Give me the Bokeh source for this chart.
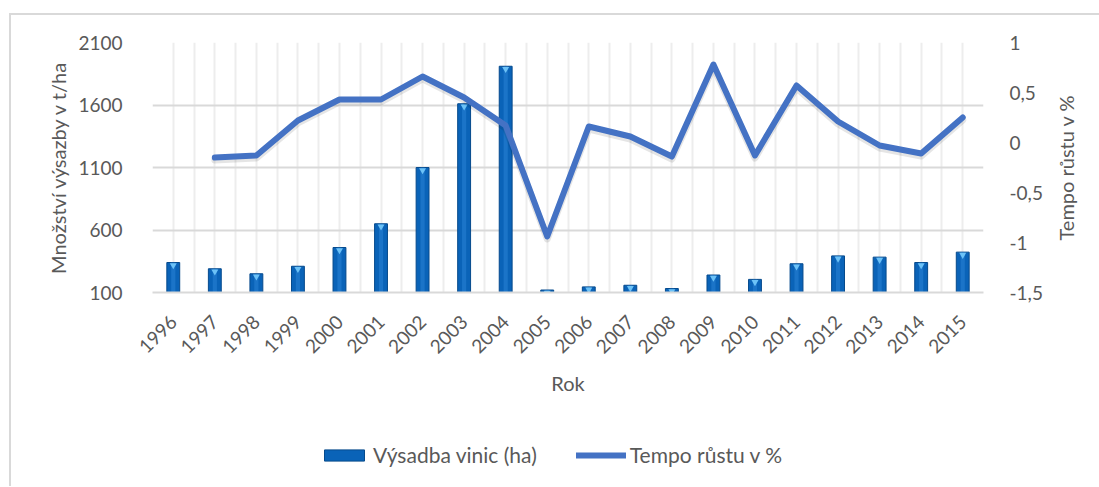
import numpy as np
from math import pi
from bokeh.plotting import figure
from bokeh.layouts import row, column
from bokeh.models import (Range1d, LinearAxis, FixedTicker, CustomJSTickFormatter,
                          Legend, LegendItem, ColumnDataSource)
from bokeh.transform import dodge
from bokeh.embed import file_html
from bokeh.resources import INLINE

# ---- data ----
years = [str(y) for y in range(1996, 2016)]
plantings = [340, 290, 250, 310, 460, 650, 1100, 1610, 1910, 120,
             145, 158, 132, 240, 205, 330, 393, 383, 340, 423]
growth = [None, -0.15, -0.13, 0.22, 0.43, 0.43, 0.66, 0.45, 0.17, -0.94,
          0.16, 0.06, -0.14, 0.78, -0.13, 0.57, 0.21, -0.03, -0.11, 0.25]
left_ticks = [100, 600, 1100, 1600, 2100]
right_ticks = [-1.5, -1, -0.5, 0, 0.5, 1]
left_title = "Množství výsazby v t/ha"
right_title = "Tempo růstu v %"
x_title = "Rok"
series_names = ["Výsadba vinic (ha)", "Tempo růstu v %"]

FONT = "Lato"
GRAY = "#595959"
FS = "19px"
TFS = "20px"
LFS = "21px"
BAR = dict(fill_color="#0A63B8", line_color="#064A8C", line_width=1)
LINE = dict(line_color="#4472C4", line_width=6, line_join="round", line_cap="round")

src = ColumnDataSource(dict(
    x=np.arange(len(years)) + 0.5,
    bars=plantings,
    growth=[np.nan if g is None else g for g in growth],
))

TOP, FH, BOT = 27, 250, 120

p = figure(frame_width=831, frame_height=FH,
           min_border_left=141, min_border_top=TOP, min_border_right=67, min_border_bottom=BOT,
           output_backend="svg", toolbar_location=None,
           x_range=Range1d(0, len(years)), y_range=Range1d(left_ticks[0], left_ticks[-1]))
p.outline_line_color = None
p.extra_y_ranges = {"r": Range1d(right_ticks[0], right_ticks[-1])}

# axes
p.yaxis.ticker = FixedTicker(ticks=left_ticks)
p.yaxis.axis_label = left_title
p.xaxis.ticker = FixedTicker(ticks=list(np.arange(len(years)) + 0.5))
p.xaxis.formatter = CustomJSTickFormatter(args=dict(years=years),
                                          code="return years[Math.floor(tick)];")
p.xaxis.major_label_orientation = pi / 4
p.xaxis.axis_label = x_title

ry = LinearAxis(y_range_name="r", ticker=FixedTicker(ticks=right_ticks),
                formatter=CustomJSTickFormatter(code="return tick.toString().replace('.', ',');"))
p.add_layout(ry, "right")

for ax in [p.yaxis[0], p.xaxis[0], ry]:
    ax.major_tick_line_color = None
    ax.minor_tick_line_color = None
    ax.major_label_text_font = FONT
    ax.major_label_text_font_size = FS
    ax.major_label_text_color = GRAY
    ax.axis_label_text_font = FONT
    ax.axis_label_text_font_size = TFS
    ax.axis_label_text_color = GRAY
    ax.axis_label_text_font_style = "normal"
p.yaxis[0].axis_line_color = None
ry.axis_line_color = None
p.xaxis[0].axis_line_color = "#D9D9D9"
p.xaxis[0].axis_line_width = 2
p.yaxis[0].major_label_standoff = 24
p.yaxis[0].axis_label_standoff = 5
ry.major_label_standoff = 20
p.xaxis[0].major_label_standoff = 20
p.xaxis[0].axis_label_standoff = 8

# grids
p.ygrid.ticker = FixedTicker(ticks=left_ticks)
p.ygrid.grid_line_color = "#D9D9D9"
p.ygrid.grid_line_width = 2
p.xgrid.ticker = FixedTicker(ticks=list(np.arange(0, len(years) + 0.5, 0.5)))
p.xgrid.grid_line_color = "#EDEDED"
p.xgrid.grid_line_width = 2

# bars
p.vbar(x="x", top="bars", bottom=left_ticks[0], width=0.31, source=src, **BAR)
p.vbar(x="x", top="bars", bottom=left_ticks[0], width=0.1, source=src,
       fill_color="#2A84D6", fill_alpha=0.55, line_color=None)
p.scatter(x="x", y=dodge("bars", -22), source=src, marker="inverted_triangle",
          size=7, fill_color="#6CC2F7", line_color=None)

# line (with faint shadow)
p.line(x="x", y=dodge("growth", -0.025), source=src, y_range_name="r",
       line_color="#000000", line_alpha=0.10, line_width=7, line_join="round", line_cap="round")
p.line(x="x", y="growth", source=src, y_range_name="r", **LINE)

# ---- right-hand axis title (reads bottom to top) ----
p2 = figure(frame_width=20, frame_height=FH, min_border_left=0, min_border_right=0,
            min_border_top=TOP, min_border_bottom=BOT,
            output_backend="svg", toolbar_location=None,
            x_range=Range1d(0, 1), y_range=Range1d(0, 1))
p2.xaxis.visible = False
p2.grid.visible = False
p2.outline_line_color = None
ya = p2.yaxis[0]
ya.ticker = FixedTicker(ticks=[])
ya.axis_line_color = None
ya.major_tick_out = 0
ya.major_tick_in = 0
ya.major_label_standoff = 0
ya.axis_label = right_title
ya.axis_label_standoff = 0
ya.axis_label_text_font = FONT
ya.axis_label_text_font_size = TFS
ya.axis_label_text_color = GRAY
ya.axis_label_text_font_style = "normal"

# ---- legend strip (swatch renderers sit outside the visible range) ----
p3 = figure(width=1088, height=74, min_border=0, output_backend="svg", toolbar_location=None,
            x_range=Range1d(0, 1), y_range=Range1d(0, 1))
p3.axis.visible = False
p3.grid.visible = False
p3.outline_line_color = None
swatch = ColumnDataSource(dict(x=[5, 6], y=[5, 5]))
r_bar = p3.vbar(x="x", top="y", width=0.31, source=swatch, **BAR)
r_line = p3.line(x="x", y="y", source=swatch, **LINE)
legend = Legend(items=[LegendItem(label=series_names[0], renderers=[r_bar]),
                       LegendItem(label=series_names[1], renderers=[r_line])],
                orientation="horizontal", location=(308, 19),
                glyph_width=50, glyph_height=14, spacing=39, label_standoff=4, padding=0,
                label_text_font=FONT, label_text_font_size=LFS, label_text_color=GRAY,
                border_line_color=None, background_fill_alpha=0, margin=0)
p3.add_layout(legend)

lay = column(row(p, p2, spacing=0), p3, spacing=0)
lay.margin = (13, 0, 0, 9)
lay.styles = {"border-left": "2px solid #D9D9D9", "border-top": "2px solid #D9D9D9"}

open("out.html", "w").write(file_html(lay, INLINE))
